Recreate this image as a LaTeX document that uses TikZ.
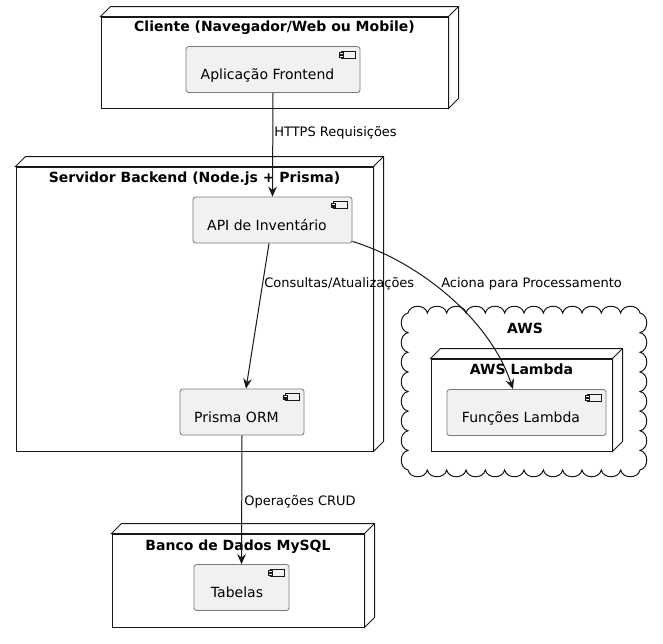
\documentclass[tikz,border=0pt]{standalone}
\usepackage{fontspec}
\setmainfont{DejaVu Sans}
\usetikzlibrary{arrows.meta,calc}
\definecolor{ln}{HTML}{181818}
\definecolor{compfill}{HTML}{F1F1F1}
\definecolor{compdraw}{HTML}{7A7A7A}
\tikzset{
  every node/.style={inner sep=0pt},
  depnode/.style={draw=ln, fill=white, line width=0.75pt},
  comp/.style={draw=compdraw, fill=compfill, line width=0.6pt, rounded corners=2pt,
    text height=25.1pt, text depth=9.4pt, font=\fontsize{10.5}{12}\selectfont, text=black},
  ttl/.style={anchor=base, font=\bfseries\fontsize{10.5}{12}\selectfont},
  elabel/.style={anchor=base west, font=\fontsize{9.75}{11}\selectfont},
  arr/.style={draw=ln, line width=0.75pt, -{Stealth[length=7.5pt,width=6.5pt,inset=2.5pt]}},
  faces/.style={draw=ln, line width=0.75pt},
  icon/.style={draw=ln, line width=0.45pt, fill=compfill},
}
\newcommand\compicon[1]{%
  \draw[icon] ($(#1.north east)+(-19,5)$) rectangle ($(#1.north east)+(-5,12)$);
  \draw[icon] ($(#1.north east)+(-21,6.5)$) rectangle ($(#1.north east)+(-17,8.2)$);
  \draw[icon] ($(#1.north east)+(-21,9.3)$) rectangle ($(#1.north east)+(-17,11)$);
}
\newcommand\nodefaces[1]{%
  \draw[faces, fill=white] (#1.north west) -- ($(#1.north west)+(10,-10)$) -- ($(#1.north east)+(10,-10)$)
     -- ($(#1.south east)+(10,-10)$) -- (#1.south east) -- (#1.north east) -- cycle;
  \draw[faces] (#1.north east) -- ($(#1.north east)+(10,-10)$);
}
\begin{document}
\begin{tikzpicture}[x=0.75pt, y=-0.75pt]
\useasboundingbox (0,0) rectangle (663,643);

% deployment nodes
\node[depnode, minimum width=260.25pt, minimum height=68.25pt] (cliente) at (274.5,62.5) {};
\nodefaces{cliente}
\node[ttl] (clienteT) at ($(cliente.north)+(0,15)$) {Cliente (Navegador/Web ou Mobile)};

\node[depnode, minimum width=267.75pt, minimum height=213pt] (servidor) at (194.5,309) {};
\nodefaces{servidor}
\node[ttl] (servidorT) at ($(servidor.north)+(0,16)$) {Servidor Backend (Node.js + Prisma)};

% cloud
\draw[draw=ln, line width=0.75pt, fill=white] (408,313)
  \foreach \i in {1,...,12} { .. controls +(2,-9) and +(-2,-9) .. ++(19.333,0) }
  \foreach \i in {1,...,8} { .. controls +(9,2) and +(9,-2) .. ++(0,19.625) }
  \foreach \i in {1,...,12} { .. controls +(-2,9) and +(2,9) .. ++(-19.333,0) }
  \foreach \i in {1,...,8} { .. controls +(-9,-2) and +(-9,2) .. ++(0,-19.625) } -- cycle;
\node[ttl] (awsT) at (525,333) {AWS};

\node[depnode, minimum width=135.75pt, minimum height=69pt] (lambda) at (521.5,405) {};
\nodefaces{lambda}
\node[ttl] (lambdaT) at ($(lambda.north)+(0,16)$) {AWS Lambda};

\node[depnode, minimum width=189pt, minimum height=69.75pt] (banco) at (238,580.5) {};
\nodefaces{banco}
\node[ttl] (bancoT) at ($(banco.north)+(0,17)$) {Banco de Dados MySQL};

% components
\node[comp, minimum width=130.5pt] (front) at (273,69.5) {Aplicação Frontend\hspace*{8.25pt}};
\compicon{front}
\node[comp, minimum width=119.25pt] (api) at (272.5,220) {API de Inventário\hspace*{8.25pt}};
\compicon{api}
\node[comp, minimum width=93pt] (prisma) at (242,412) {Prisma ORM\hspace*{8.25pt}};
\compicon{prisma}
\node[comp, minimum width=119.25pt] (fn) at (526.5,412.5) {Funções Lambda\hspace*{8.25pt}};
\compicon{fn}
\node[comp, minimum width=71.25pt] (tab) at (241.5,587.5) {Tabelas\hspace*{6.75pt}};
\compicon{tab}

% connectors
\draw[arr] (front.south) -- (api.north);
\draw[arr] ($(api.south)+(-3.5,0)$) -- ($(prisma.north)+(4,0)$);
\draw[arr] ($(api.south east)+(0,-2)$) .. controls +(68,21) and +(-23,-69) .. ($(fn.north)+(-13.5,0)$);
\draw[arr] (prisma.south) -- (tab.north);

% connector labels
\node[elabel] (l1) at (274,136) {HTTPS Requisições};
\node[elabel] (l2) at (264,287) {Consultas/Atualizações};
\node[elabel] (l3) at (441,287) {Aciona para Processamento};
\node[elabel] (l4) at (244,505) {Operações CRUD};
\end{tikzpicture}
\end{document}
